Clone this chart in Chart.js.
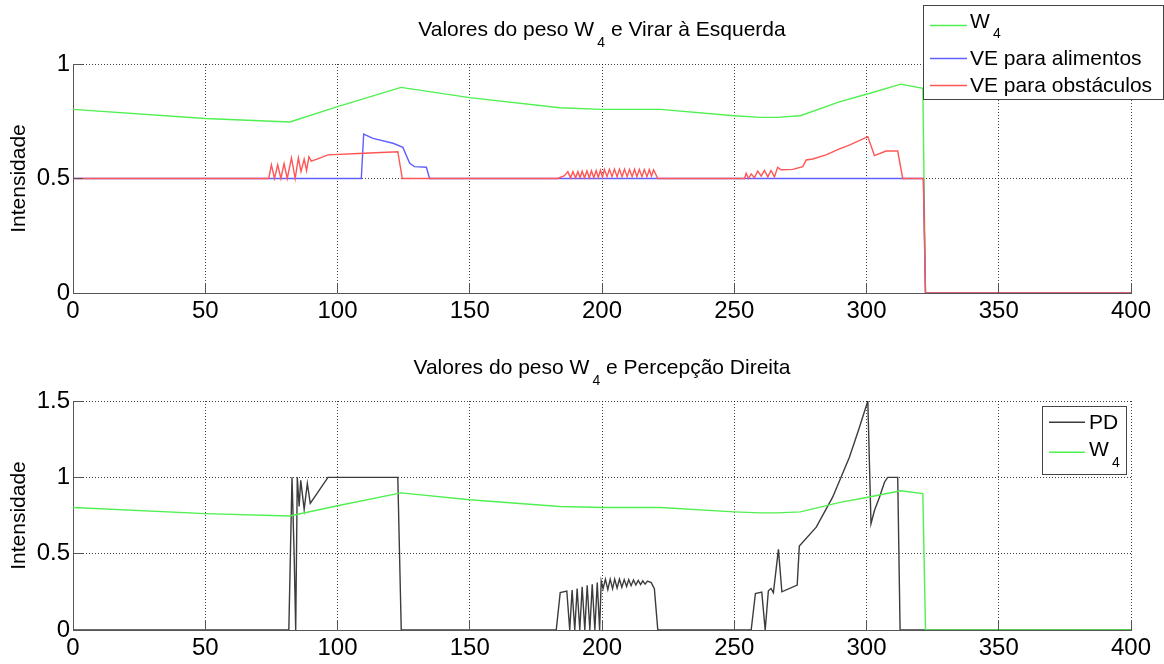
<!DOCTYPE html>
<html lang="pt">
<head>
<meta charset="utf-8">
<title>Valores do peso W4</title>
<script src="https://cdn.jsdelivr.net/npm/chart.js@4.4.0/dist/chart.umd.min.js"></script>
<style>
  html, body { margin: 0; padding: 0; background: #fff; }
  #wrap { position: relative; width: 1164px; height: 664px; }
  #wrap canvas { position: absolute; left: 0; }
  #chartTop { top: 0; }
  #chartBottom { top: 340px; }
</style>
</head>
<body>
<div id="wrap">
  <canvas id="chartTop" width="1164" height="340"></canvas>
  <canvas id="chartBottom" width="1164" height="324"></canvas>
</div>
<script>
// === Dados (tempo, intensidade) ===
const xTicks = [0, 50, 100, 150, 200, 250, 300, 350, 400];
const yTicksTop = [0, 0.5, 1];
const yTicksBottom = [0, 0.5, 1, 1.5];

// peso W4 (igual nos dois gráficos)
const w4 = [[0,0.802],[50,0.762],[82,0.747],[100,0.814],[124,0.898],[150,0.853],[184,0.809],[200,0.802],
  [222,0.802],[250,0.774],[260,0.767],[266,0.767],[275,0.774],[290,0.836],[300,0.868],[313,0.912],
  [321.3,0.894],[322.3,0],[400,0]];

// virar à esquerda: alimentos
const veAlimentos = [[0,0.5],[109,0.5],[109.9,0.694],[113.4,0.675],[121,0.654],[124.7,0.636],[127.3,0.566],
  [129.1,0.552],[133.6,0.549],[134.8,0.5],[321.5,0.5],[322.3,0],[400,0]];

// virar à esquerda: obstáculos
const veObstaculos = [[0,0.5],[74,0.5],[75,0.56],[76.2,0.5],[77.4,0.56],[78.6,0.5],[79.8,0.565],[81,0.5],
  [82.6,0.59],[84,0.5],[85.2,0.59],[86.2,0.53],[87.4,0.585],[88.3,0.535],[89.2,0.595],[90.1,0.576],
  [93,0.588],[96.4,0.603],[110,0.61],[122.8,0.617],[124.5,0.5],
  [183.3,0.5],[185.8,0.512],[187.1,0.53],[188.1,0.503],[189.0,0.53],[190.0,0.503],[190.9,0.53],[191.7,0.503],
  [192.5,0.532],[193.4,0.503],[194.3,0.533],[195.2,0.503],[196.0,0.534],[196.9,0.504],[197.8,0.535],
  [198.6,0.505],[199.4,0.536],[200.2,0.506],[200.9,0.54],[201.9,0.508],[202.8,0.54],[203.8,0.508],
  [204.7,0.541],[205.7,0.508],[206.6,0.541],[207.6,0.508],[208.5,0.541],[209.5,0.508],[210.4,0.54],
  [211.4,0.508],[212.3,0.54],[213.2,0.508],[214.1,0.54],[215.1,0.508],[216.0,0.539],[217.0,0.508],
  [217.9,0.539],[218.7,0.51],[219.5,0.538],[221.1,0.5],
  [253.9,0.5],[254.5,0.523],[255.4,0.5],[256.4,0.52],[257.6,0.503],[258.9,0.532],[260.2,0.51],[261.4,0.535],
  [262.7,0.507],[263.9,0.535],[265.2,0.507],[266.4,0.549],[267.7,0.538],[272.1,0.54],[275.9,0.552],
  [277.2,0.581],[279.7,0.585],[284.7,0.603],[289.8,0.629],[293.5,0.646],[300.5,0.683],[303,0.6],
  [307.4,0.62],[311.8,0.62],[313.7,0.5],[321.5,0.5],[322.3,0],[400,0]];

// percepção direita
const pd = [[0,0],[81.6,0],[82.8,1],[83.6,0.5],[84.2,0],[84.8,1],[85.5,0.81],[86.1,0.98],[87.4,0.79],
  [88.6,0.96],[89.7,0.83],[96.4,1],[122.8,1],[124.1,0],
  [182.7,0],[184.2,0.245],[186.7,0.255],[187.8,0],[188.7,0.261],[189.7,0],[190.6,0.272],[191.6,0],
  [192.5,0.283],[193.5,0],[194.4,0.293],[195.4,0],[196.3,0.3],[197.3,0],[198.2,0.311],[199.1,0],
  [199.7,0.32],[200.4,0.27],[201.3,0.333],[202.2,0.265],[203.1,0.333],[204,0.27],[204.8,0.333],
  [205.7,0.275],[206.6,0.333],[207.5,0.28],[208.4,0.33],[209.3,0.285],[210.1,0.33],[211,0.29],
  [211.9,0.328],[212.8,0.295],[213.7,0.325],[214.6,0.298],[215.4,0.322],[216.3,0.3],[217.2,0.32],
  [218.6,0.31],[219.8,0.27],[221.1,0],
  [256.4,0],[258,0.239],[260.4,0.248],[261.7,0],[262.9,0.257],[263.9,0.272],[264.8,0.244],[266.7,0.528],
  [268,0.25],[273.8,0.294],[274.6,0.55],[281,0.674],[287.2,0.87],[293.5,1.13],[297,1.31],[300.5,1.5],
  [301.7,0.696],[303,0.783],[304.9,0.87],[306.8,0.968],[308,1],[311.8,1],[312.7,0],[400,0]];

const FONT = "'Liberation Sans', Arial, Helvetica, sans-serif";
const TEXT_SIZE = 21;
Chart.defaults.font.family = FONT;
Chart.defaults.color = '#000';

const toXY = pts => pts.map(([x, y]) => ({ x, y }));

// texto com índice: "W_4" -> W + 4 subscrito
function drawRich(ctx, text, x, y, size, align) {
  const parts = text.split(/(_\w)/).filter(Boolean)
    .map(p => p[0] === '_' ? { t: p.slice(1), sub: true } : { t: p, sub: false });
  const subSize = Math.round(size * 0.68);
  const gap = size * 0.15;
  let total = 0;
  parts.forEach(p => {
    ctx.font = (p.sub ? subSize : size) + 'px ' + FONT;
    p.w = ctx.measureText(p.t).width + (p.sub ? gap : 0);
    total += p.w;
  });
  let cx = align === 'center' ? x - total / 2 : x;
  ctx.textAlign = 'left';
  ctx.textBaseline = 'alphabetic';
  ctx.fillStyle = '#000';
  parts.forEach(p => {
    ctx.font = (p.sub ? subSize : size) + 'px ' + FONT;
    ctx.fillText(p.t, cx + (p.sub ? gap : 0), y + (p.sub ? size * 0.52 : 0));
    cx += p.w;
  });
}

function titlePlugin(text, baseline) {
  return {
    id: 'richTitle',
    afterDraw(chart) {
      const a = chart.chartArea;
      drawRich(chart.ctx, text, (a.left + a.right) / 2, baseline, TEXT_SIZE, 'center');
    }
  };
}

function legendPlugin(box) {
  return {
    id: 'boxLegend',
    afterDraw(chart) {
      const ctx = chart.ctx;
      ctx.save();
      ctx.fillStyle = '#fff';
      ctx.fillRect(box.x, box.y, box.w, box.h);
      ctx.strokeStyle = '#444';
      ctx.lineWidth = 1;
      ctx.strokeRect(box.x + 0.5, box.y + 0.5, box.w, box.h);
      chart.data.datasets.forEach((ds, i) => {
        const [lineY, baseY] = box.rows[i];
        ctx.strokeStyle = ds.borderColor;
        ctx.lineWidth = ds.borderWidth;
        ctx.beginPath();
        ctx.moveTo(box.sampleX[0], lineY + 0.5);
        ctx.lineTo(box.sampleX[1], lineY + 0.5);
        ctx.stroke();
        drawRich(ctx, ds.label, box.textX, baseY, TEXT_SIZE, 'left');
      });
      ctx.restore();
    }
  };
}

// marcas dos ticks para dentro dos eixos
const innerTicks = {
  id: 'innerTicks',
  afterDraw(chart) {
    const { ctx, chartArea: a } = chart;
    const x = chart.scales.x, y = chart.scales.y;
    const al = p => Math.round(p - 0.5) + 0.5;
    ctx.save();
    ctx.strokeStyle = '#555';
    ctx.lineWidth = 1;
    ctx.beginPath();
    x.ticks.forEach(t => { const px = al(x.getPixelForValue(t.value)); ctx.moveTo(px, a.bottom); ctx.lineTo(px, a.bottom - 10); });
    y.ticks.forEach(t => { const py = al(y.getPixelForValue(t.value)); ctx.moveTo(a.left, py); ctx.lineTo(a.left + 10, py); });
    ctx.stroke();
    ctx.restore();
  }
};

function makeChart(id, cfg) {
  const axisGrid = { color: 'rgba(0,0,0,0.75)', lineWidth: 1, drawTicks: false };
  const axisBorder = { display: true, color: '#555', width: 1, dash: [1, 2] };
  return new Chart(document.getElementById(id), {
    type: 'line',
    data: {
      datasets: cfg.series.map(s => ({
        label: s.label, data: toXY(s.data), borderColor: s.color, borderWidth: 1.4,
        pointRadius: 0, tension: 0, fill: false, order: s.order
      }))
    },
    options: {
      responsive: false, animation: false, devicePixelRatio: 1,
      layout: { padding: { top: cfg.padTop, right: 33, left: 0, bottom: 0 } },
      plugins: { legend: { display: false }, tooltip: { enabled: false } },
      scales: {
        x: {
          type: 'linear', min: 0, max: 400,
          afterBuildTicks: s => { s.ticks = xTicks.map(v => ({ value: v })); },
          afterFit: s => { s.height = cfg.xHeight; },
          grid: axisGrid, border: axisBorder,
          ticks: { font: { size: 24 }, padding: 4, maxRotation: 0, callback: v => String(v) }
        },
        y: {
          type: 'linear', min: 0, max: cfg.yMax,
          afterBuildTicks: s => { s.ticks = cfg.yTicks.map(v => ({ value: v })); },
          afterFit: s => { s.width = 73; },
          grid: axisGrid, border: axisBorder,
          ticks: { font: { size: 24 }, padding: 3, callback: v => String(v) },
          title: { display: true, text: 'Intensidade', font: { size: TEXT_SIZE }, padding: { top: 7, bottom: 0 } }
        }
      }
    },
    plugins: [innerTicks, titlePlugin(cfg.title, cfg.titleBase), legendPlugin(cfg.legend)]
  });
}

makeChart('chartTop', {
  title: 'Valores do peso W_4 e Virar à Esquerda', titleBase: 36,
  padTop: 64, xHeight: 47, yMax: 1, yTicks: yTicksTop,
  series: [
    { label: 'W_4', data: w4, color: 'rgb(80,240,80)', order: 2 },
    { label: 'VE para alimentos', data: veAlimentos, color: 'rgb(95,95,255)', order: 1 },
    { label: 'VE para obstáculos', data: veObstaculos, color: 'rgb(255,85,85)', order: 0 }
  ],
  legend: { x: 923, y: 5, w: 240, h: 94, rows: [[25, 27.5], [58, 65], [85, 91.7]], sampleX: [930, 967], textX: 970 }
});

makeChart('chartBottom', {
  title: 'Valores do peso W_4 e Percepção Direita', titleBase: 34,
  padTop: 61, xHeight: 34, yMax: 1.5, yTicks: yTicksBottom,
  series: [
    { label: 'PD', data: pd, color: 'rgb(60,60,60)', order: 1 },
    { label: 'W_4', data: w4, color: 'rgb(80,240,80)', order: 0 }
  ],
  legend: { x: 1042, y: 66, w: 84, h: 68, rows: [[81.7, 89.3], [111.7, 116]], sampleX: [1049, 1085], textX: 1089 }
});
</script>
</body>
</html>
